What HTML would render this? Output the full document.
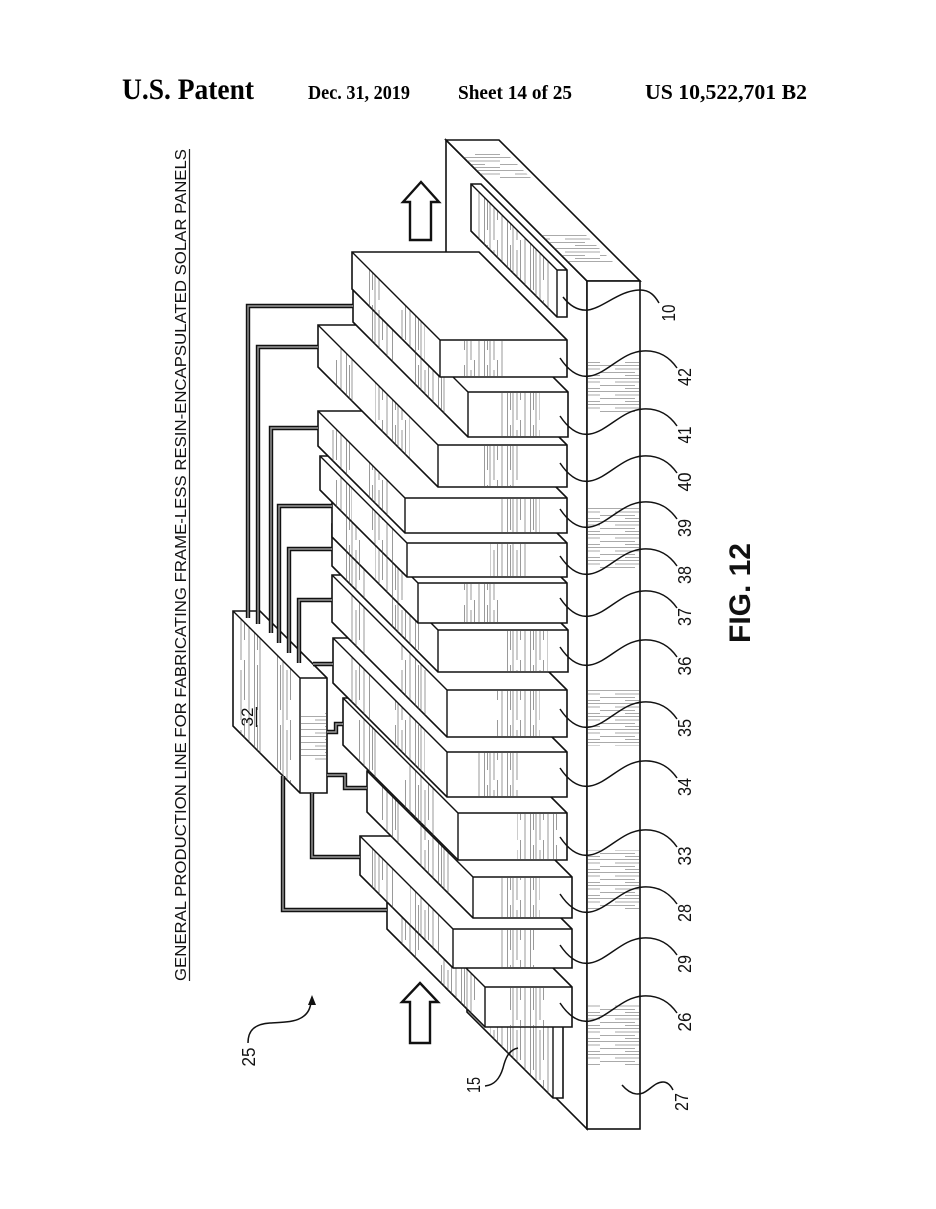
<!DOCTYPE html>
<html><head><meta charset="utf-8"><style>
html,body{margin:0;padding:0;background:#fff;}
svg{display:block;}
.o{fill:#fff;stroke:#111;stroke-width:1.6;stroke-linejoin:miter}
.i{fill:none;stroke:#111;stroke-width:1.4}
.hv{fill:url(#vh);stroke:none}
.hh{fill:url(#hh);stroke:none}
.w1{fill:none;stroke:#111;stroke-width:4.4}
.w2{fill:none;stroke:#9a9a9a;stroke-width:1.4}
.ld{fill:none;stroke:#111;stroke-width:1.5}
.lb{font-family:"Liberation Sans",sans-serif;font-size:18px;fill:#111}
.hd{font-family:"Liberation Serif",serif;font-weight:bold;fill:#000}
</style></head><body>
<svg width="936" height="1209" viewBox="0 0 936 1209" xmlns="http://www.w3.org/2000/svg">
<defs>
<pattern id="vh" width="23" height="60" patternUnits="userSpaceOnUse">
<g stroke="#555" stroke-width="0.6">
<line x1="1.5" y1="0" x2="1.5" y2="60"/><line x1="4.5" y1="5" x2="4.5" y2="50"/>
<line x1="7" y1="0" x2="7" y2="60"/><line x1="11" y1="10" x2="11" y2="60"/>
<line x1="14.5" y1="0" x2="14.5" y2="40"/><line x1="19" y1="0" x2="19" y2="60"/>
</g></pattern>
<pattern id="hh" width="50" height="13" patternUnits="userSpaceOnUse">
<g stroke="#555" stroke-width="0.6">
<line x1="0" y1="1.5" x2="50" y2="1.5"/><line x1="15" y1="5" x2="50" y2="5"/>
<line x1="0" y1="8.5" x2="35" y2="8.5"/><line x1="25" y1="11.5" x2="50" y2="11.5"/>
</g></pattern>
</defs>

<!-- header -->
<text class="hd" x="122" y="99" font-size="30" textLength="132" lengthAdjust="spacingAndGlyphs">U.S. Patent</text>
<text class="hd" x="308" y="99" font-size="19.5" textLength="102" lengthAdjust="spacingAndGlyphs">Dec. 31, 2019</text>
<text class="hd" x="458" y="99" font-size="19.5" textLength="114" lengthAdjust="spacingAndGlyphs">Sheet 14 of 25</text>
<text class="hd" x="645" y="99" font-size="21" textLength="162" lengthAdjust="spacingAndGlyphs">US 10,522,701 B2</text>

<!-- title -->
<text transform="translate(186,565) rotate(-90)" text-anchor="middle" font-family="Liberation Sans, sans-serif" font-size="15.5" fill="#111" textLength="832" lengthAdjust="spacingAndGlyphs">GENERAL PRODUCTION LINE FOR FABRICATING FRAME-LESS RESIN-ENCAPSULATED SOLAR PANELS</text>
<line x1="189.5" y1="149" x2="189.5" y2="981" stroke="#222" stroke-width="1.2"/>

<!-- FIG -->
<text transform="translate(750,593) rotate(-90)" text-anchor="middle" font-family="Liberation Sans, sans-serif" font-weight="bold" font-size="30" fill="#111" textLength="100" lengthAdjust="spacingAndGlyphs">FIG. 12</text>

<!-- table -->
<polygon class="o" points="446,140 587,281 587,1129 446,988"/>
<polygon class="o" points="446,140 499,140 640,281 587,281"/>
<rect class="o" x="587" y="281" width="53" height="848"/>
<polygon class="hh" points="458,152 505,152 532,179 485,179"/>
<polygon class="hh" points="540,234 585,234 614,263 569,263"/>
<rect class="hh" x="588" y="360" width="51" height="52"/>
<rect class="hh" x="588" y="508" width="51" height="60"/>
<rect class="hh" x="588" y="690" width="51" height="56"/>
<rect class="hh" x="588" y="850" width="51" height="60"/>
<rect class="hh" x="588" y="1005" width="51" height="60"/>

<!-- panel 15 -->
<polygon class="o" points="467,934 477,934 563,1020 563,1098 553,1098 467,1012"/>
<polygon class="hv" points="490,957 550,1017 550,1095 490,1035"/>
<path class="i" d="M467,934 L553,1020 L563,1020 M553,1020 L553,1098"/>

<!-- 26 -->
<polygon class="o" points="387,889 474,889 572,987 572,1027 485,1027 387,929"/>
<polygon class="hv" points="400,902 420,922 420,962 400,942"/>
<polygon class="hv" points="440,942 475,977 475,1017 440,982"/>
<rect class="hv" x="510" y="988" width="35" height="38"/>
<path class="i" d="M387,889 L485,987 L572,987 M485,987 L485,1027"/>

<!-- 29 -->
<polygon class="o" points="360,836 479,836 572,929 572,968 453,968 360,875"/>
<polygon class="hv" points="370,846 395,871 395,910 370,885"/>
<polygon class="hv" points="410,886 440,916 440,955 410,925"/>
<rect class="hv" x="500" y="930" width="35" height="37"/>
<path class="i" d="M360,836 L453,929 L572,929 M453,929 L453,968"/>

<!-- 28 -->
<polygon class="o" points="367,771 466,771 572,877 572,918 473,918 367,812"/>
<polygon class="hv" points="380,784 400,804 400,845 380,825"/>
<polygon class="hv" points="420,824 450,854 450,895 420,865"/>
<rect class="hv" x="500" y="878" width="40" height="39"/>
<path class="i" d="M367,771 L473,877 L572,877 M473,877 L473,918"/>

<!-- 33 -->
<polygon class="o" points="343,698 452,698 567,813 567,860 458,860 343,745"/>
<polygon class="hv" points="358,713 378,733 378,780 358,760"/>
<polygon class="hv" points="405,760 435,790 435,837 405,807"/>
<rect class="hv" x="517" y="814" width="40" height="45"/>
<path class="i" d="M343,698 L458,813 L567,813 M458,813 L458,860"/>

<!-- 34 -->
<polygon class="o" points="333,638 453,638 567,752 567,797 447,797 333,683"/>
<polygon class="hv" points="350,655 370,675 370,720 350,700"/>
<polygon class="hv" points="395,700 425,730 425,775 395,745"/>
<rect class="hv" x="475" y="753" width="43" height="43"/>
<path class="i" d="M333,638 L447,752 L567,752 M447,752 L447,797"/>

<!-- 35 -->
<polygon class="o" points="332,575 452,575 567,690 567,737 447,737 332,622"/>
<polygon class="hv" points="350,593 367,610 367,657 350,640"/>
<polygon class="hv" points="400,643 427,670 427,717 400,690"/>
<rect class="hv" x="497" y="691" width="43" height="45"/>
<path class="i" d="M332,575 L447,690 L567,690 M447,690 L447,737"/>

<!-- 36 -->
<polygon class="o" points="332,524 462,524 568,630 568,672 438,672 332,566"/>
<polygon class="hv" points="345,537 365,557 365,599 345,579"/>
<polygon class="hv" points="390,582 420,612 420,654 390,624"/>
<rect class="hv" x="505" y="631" width="43" height="40"/>
<path class="i" d="M332,524 L438,630 L568,630 M438,630 L438,672"/>

<!-- 37 -->
<polygon class="o" points="332,497 481,497 567,583 567,623 418,623 332,537"/>
<polygon class="hv" points="345,510 360,525 360,565 345,550"/>
<polygon class="hv" points="375,540 405,570 405,610 375,580"/>
<rect class="hv" x="463" y="584" width="37" height="38"/>
<path class="i" d="M332,497 L418,583 L567,583 M418,583 L418,623"/>

<!-- 38 -->
<polygon class="o" points="320,456 480,456 567,543 567,577 407,577 320,490"/>
<polygon class="hv" points="335,471 352,488 352,522 335,505"/>
<polygon class="hv" points="370,506 395,531 395,565 370,540"/>
<rect class="hv" x="490" y="544" width="40" height="32"/>
<path class="i" d="M320,456 L407,543 L567,543 M407,543 L407,577"/>

<!-- 39 -->
<polygon class="o" points="318,411 480,411 567,498 567,533 405,533 318,446"/>
<polygon class="hv" points="330,423 350,443 350,478 330,458"/>
<polygon class="hv" points="365,458 390,483 390,518 365,493"/>
<rect class="hv" x="500" y="499" width="40" height="33"/>
<path class="i" d="M318,411 L405,498 L567,498 M405,498 L405,533"/>

<!-- 40 -->
<polygon class="o" points="318,325 447,325 567,445 567,487 438,487 318,367"/>
<polygon class="hv" points="335,342 355,362 355,404 335,384"/>
<polygon class="hv" points="375,382 410,417 410,459 375,424"/>
<rect class="hv" x="480" y="446" width="40" height="40"/>
<path class="i" d="M318,325 L438,445 L567,445 M438,445 L438,487"/>

<!-- 41 -->
<polygon class="o" points="353,277 453,277 568,392 568,437 468,437 353,322"/>
<polygon class="hv" points="370,294 395,319 395,364 370,339"/>
<polygon class="hv" points="415,339 445,369 445,414 415,384"/>
<rect class="hv" x="500" y="393" width="40" height="43"/>
<path class="i" d="M353,277 L468,392 L568,392 M468,392 L468,437"/>

<!-- 42 -->
<polygon class="o" points="352,252 479,252 567,340 567,377 440,377 352,289"/>
<polygon class="hv" points="365,265 382,282 382,319 365,302"/>
<polygon class="hv" points="400,300 425,325 425,362 400,337"/>
<rect class="hv" x="463" y="341" width="44" height="35"/>
<path class="i" d="M352,252 L440,340 L567,340 M440,340 L440,377"/>

<!-- panel 10 -->
<polygon class="o" points="471,184 481,184 567,270 567,317 557,317 471,231"/>
<polygon class="hv" points="478,191 553,266 553,313 478,238"/>
<path class="i" d="M471,184 L557,270 L567,270 M557,270 L557,317"/>

<!-- controller 32 -->
<polygon class="o" points="233,611 260,611 327,678 327,793 300,793 233,726"/>
<polygon class="hv" points="240,618 262,640 262,755 240,733"/>
<polygon class="hv" points="275,653 292,670 292,785 275,768"/>
<rect class="hh" x="301" y="712" width="25" height="48"/>
<path class="i" d="M233,611 L300,678 L327,678 M300,678 L300,793"/>
<text transform="translate(253,717) rotate(-90)" text-anchor="middle" font-family="Liberation Sans, sans-serif" font-size="17" fill="#111">32</text>
<line x1="256.5" y1="707" x2="256.5" y2="727" stroke="#111" stroke-width="1.4"/>

<!-- wires -->
<g>
<path class="w1" d="M248,618 L248,306 L353,306"/><path class="w2" d="M248,618 L248,306 L353,306"/>
<path class="w1" d="M258,624 L258,347 L318,347"/><path class="w2" d="M258,624 L258,347 L318,347"/>
<path class="w1" d="M271,633 L271,428 L318,428"/><path class="w2" d="M271,633 L271,428 L318,428"/>
<path class="w1" d="M279,643 L279,506 L332,506"/><path class="w2" d="M279,643 L279,506 L332,506"/>
<path class="w1" d="M289,653 L289,549 L332,549"/><path class="w2" d="M289,653 L289,549 L332,549"/>
<path class="w1" d="M299,663 L299,600 L332,600"/><path class="w2" d="M299,663 L299,600 L332,600"/>
<path class="w1" d="M313,664 L333,664"/><path class="w2" d="M313,664 L333,664"/>
<path class="w1" d="M327,732 L336,732 L336,724 L343,724"/><path class="w2" d="M327,732 L336,732 L336,724 L343,724"/>
<path class="w1" d="M327,775 L345,775 L345,788 L367,788"/><path class="w2" d="M327,775 L345,775 L345,788 L367,788"/>
<path class="w1" d="M312,793 L312,857 L360,857"/><path class="w2" d="M312,793 L312,857 L360,857"/>
<path class="w1" d="M283,776 L283,910 L387,910"/><path class="w2" d="M283,776 L283,910 L387,910"/>
</g>

<!-- arrows -->
<polygon points="421,182 439,202 431,202 431,240 410,240 410,202 403,202" fill="#fff" stroke="#111" stroke-width="2.4" stroke-linejoin="miter"/>
<polygon points="420,983 438,1002 430,1002 430,1043 410,1043 410,1002 402,1002" fill="#fff" stroke="#111" stroke-width="2.4" stroke-linejoin="miter"/>

<!-- leaders -->
<g class="ld">
<path d="M563,297 C570,306 578,311 588,310 C603,308 620,290 640,290 C650,290 655,296 659,303"/>
<path d="M560,358 C568,370 578,378 590,376 C608,373 622,352 643,351 C660,350 670,358 677,368"/>
<path d="M560,416 C568,428 578,436 590,434 C608,431 622,410 643,409 C660,408 670,416 677,426"/>
<path d="M560,463 C568,475 578,483 590,481 C608,478 622,457 643,456 C660,455 670,463 677,473"/>
<path d="M560,509 C568,521 578,529 590,527 C608,524 622,503 643,502 C660,501 670,509 677,519"/>
<path d="M560,556 C568,568 578,576 590,574 C608,571 622,550 643,549 C660,548 670,556 677,566"/>
<path d="M560,598 C568,610 578,618 590,616 C608,613 622,592 643,591 C660,590 670,598 677,608"/>
<path d="M560,647 C568,659 578,667 590,665 C608,662 622,641 643,640 C660,639 670,647 677,657"/>
<path d="M560,709 C568,721 578,729 590,727 C608,724 622,703 643,702 C660,701 670,709 677,719"/>
<path d="M560,768 C568,780 578,788 590,786 C608,783 622,762 643,761 C660,760 670,768 677,778"/>
<path d="M560,837 C568,849 578,857 590,855 C608,852 622,831 643,830 C660,829 670,837 677,847"/>
<path d="M560,894 C568,906 578,914 590,912 C608,909 622,888 643,887 C660,886 670,894 677,904"/>
<path d="M560,945 C568,957 578,965 590,963 C608,960 622,939 643,938 C660,937 670,945 677,955"/>
<path d="M560,1003 C568,1015 578,1023 590,1021 C608,1018 622,997 643,996 C660,995 670,1003 677,1013"/>
<path d="M622,1085 C628,1092 635,1096 643,1093 C650,1090 655,1082 663,1082 C668,1082 671,1086 673,1090"/>
<path d="M518,1048 C508,1050 505,1060 503,1068 C500,1078 495,1085 485,1086"/>
<path d="M248,1043 C248,1030 255,1024 270,1023 C290,1022 309,1022 311,1002"/>
</g>
<polygon points="308,1005 312,995 316,1005" fill="#111"/>

<!-- labels -->
<g class="lb" text-anchor="middle">
<text transform="translate(675,313) rotate(-90)" textLength="17" lengthAdjust="spacingAndGlyphs">10</text>
<text transform="translate(691,377) rotate(-90)" textLength="18" lengthAdjust="spacingAndGlyphs">42</text>
<text transform="translate(691,435) rotate(-90)" textLength="17" lengthAdjust="spacingAndGlyphs">41</text>
<text transform="translate(691,482) rotate(-90)" textLength="19" lengthAdjust="spacingAndGlyphs">40</text>
<text transform="translate(691,528) rotate(-90)" textLength="18" lengthAdjust="spacingAndGlyphs">39</text>
<text transform="translate(691,575) rotate(-90)" textLength="18" lengthAdjust="spacingAndGlyphs">38</text>
<text transform="translate(691,617) rotate(-90)" textLength="18" lengthAdjust="spacingAndGlyphs">37</text>
<text transform="translate(691,666) rotate(-90)" textLength="19" lengthAdjust="spacingAndGlyphs">36</text>
<text transform="translate(691,728) rotate(-90)" textLength="18" lengthAdjust="spacingAndGlyphs">35</text>
<text transform="translate(691,787) rotate(-90)" textLength="18" lengthAdjust="spacingAndGlyphs">34</text>
<text transform="translate(691,856) rotate(-90)" textLength="19" lengthAdjust="spacingAndGlyphs">33</text>
<text transform="translate(691,913) rotate(-90)" textLength="18" lengthAdjust="spacingAndGlyphs">28</text>
<text transform="translate(691,964) rotate(-90)" textLength="18" lengthAdjust="spacingAndGlyphs">29</text>
<text transform="translate(691,1022) rotate(-90)" textLength="19" lengthAdjust="spacingAndGlyphs">26</text>
<text transform="translate(688,1102) rotate(-90)" textLength="18" lengthAdjust="spacingAndGlyphs">27</text>
<text transform="translate(480,1085) rotate(-90)" textLength="16" lengthAdjust="spacingAndGlyphs">15</text>
<text transform="translate(255,1057) rotate(-90)" textLength="19" lengthAdjust="spacingAndGlyphs">25</text>
</g>
</svg>
</body></html>
